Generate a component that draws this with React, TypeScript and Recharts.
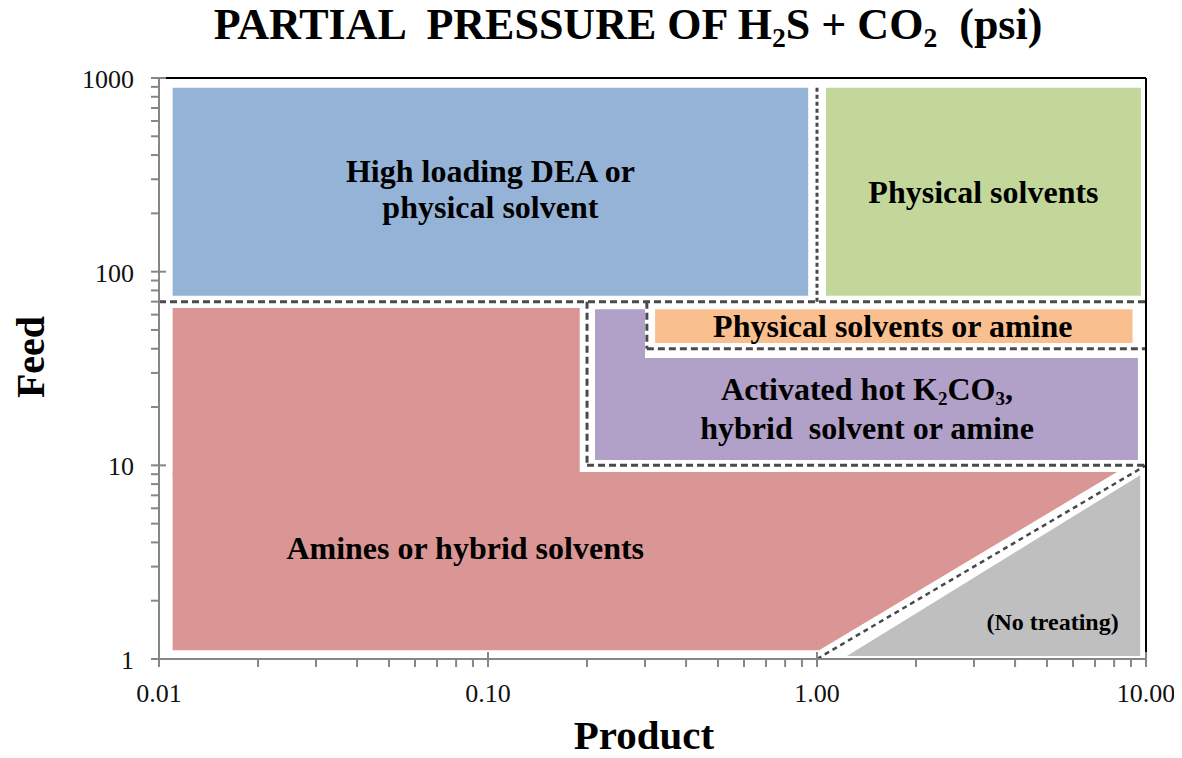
import React from 'react';
import { ComposedChart, XAxis, YAxis, ReferenceArea, ReferenceLine } from 'recharts';

// ---- axis ticks ----
const xMajorTicks = [0.01, 0.1, 1, 10];
const xTickLabels = ['0.01', '0.10', '1.00', '10.00'];
const xMinorTicks = [0.02, 0.03, 0.04, 0.05, 0.06, 0.07, 0.08, 0.09, 0.2, 0.3, 0.4, 0.5, 0.6, 0.7, 0.8, 0.9, 2, 3, 4, 5, 6, 7, 8, 9];
const yMajorTicks = [1, 10, 100, 1000];
const yTickLabels = ['1', '10', '100', '1000'];
const yMinorTicks = [2, 3, 4, 5, 6, 7, 8, 9, 20, 30, 40, 50, 60, 70, 80, 90, 200, 300, 400, 500, 600, 700, 800, 900];

// ---- regions: [productX1, productX2, feedY1, feedY2] (psi) ----
const deaBox = [0.011, 0.94, 75, 890];
const physicalBox = [1.065, 9.65, 75, 890];
const physOrAmineBox = [0.322, 9.1, 42.8, 64];
const k2co3StripBox = [0.2115, 0.3, 10.65, 64];
const k2co3Box = [0.29, 9.45, 10.65, 35.8];
const aminesUpperBox = [0.011, 0.19, 9.0, 65];
const aminesLowerBox = [0.011, 1.02, 1.11, 9.23];
const aminesWedgeBox = [1.015, 8.16, 1.11, 9.23];
const noTreatBox = [1.233, 9.6, 1.036, 8.9];

// ---- dashed boundaries (product, feed) ----
const boundaryFeed70 = [{ x: 0.01, y: 70 }, { x: 10, y: 70 }];
const boundaryProduct1 = [{ x: 1, y: 70 }, { x: 1, y: 900 }];
const boundaryK2CO3 = [{ x: 0.2, y: 70 }, { x: 0.2, y: 10 }, { x: 10, y: 10 }];
const boundaryPhysAmine = [{ x: 0.304, y: 70 }, { x: 0.304, y: 40 }, { x: 10, y: 40 }];
const boundaryNoTreat = [{ x: 1, y: 1 }, { x: 10, y: 10 }];

// ---- styles ----
const SERIF = "'Liberation Serif', 'Times New Roman', serif";
const AXIS = '#868686';
const DASH = '#4a4a4a';
const C = {
  blue: '#95B3D7',
  green: '#C4D79B',
  orange: '#FABF8F',
  purple: '#B1A0C7',
  red: '#DA9694',
  gray: '#BFBFBF',
};

const XTick = (props: any) => {
  const { x, y, payload } = props;
  const mi = xMajorTicks.indexOf(payload.value);
  const major = mi >= 0;
  return (
    <g>
      <line x1={x} x2={x} y1={major ? y - 7 : y} y2={y + 8} stroke={AXIS} strokeWidth={2} />
      {major && (
        <text x={x} y={y + 43} textAnchor="middle" fontFamily={SERIF} fontSize={26} fill="#111">
          {xTickLabels[mi]}
        </text>
      )}
    </g>
  );
};

const YTick = (props: any) => {
  const { x, y, payload } = props;
  const mi = yMajorTicks.indexOf(payload.value);
  const major = mi >= 0;
  return (
    <g>
      <line x1={x - 8} x2={major ? x + 7 : x} y1={y} y2={y} stroke={AXIS} strokeWidth={2} />
      {major && (
        <text x={x - 25} y={y + 10} textAnchor="end" fontFamily={SERIF} fontSize={26} fill="#111">
          {yTickLabels[mi]}
        </text>
      )}
    </g>
  );
};

const regionLabel = (lines: React.ReactNode[], dx: number, baselines: number[], size = 32) => (props: any) => {
  const vb = props.viewBox || {};
  const cx = vb.x + vb.width / 2 + dx;
  const cy = vb.y + vb.height / 2;
  return (
    <g>
      {lines.map((l, i) => (
        <text key={i} x={cx} y={cy + baselines[i]} textAnchor="middle" fontFamily={SERIF} fontWeight="bold" fontSize={size} fill="#000" style={{ whiteSpace: 'pre' }}>
          {l}
        </text>
      ))}
    </g>
  );
};

const triangleShape = (corners: string) => (p: any) => {
  const { x, y, width, height, fill } = p;
  const pts: Record<string, string> = {
    lb: `${x},${y + height}`,
    lt: `${x},${y}`,
    rt: `${x + width},${y}`,
    rb: `${x + width},${y + height}`,
  };
  const points = corners.split(' ').map((k) => pts[k]).join(' ');
  return <polygon points={points} fill={fill} />;
};

const Box = (b: number[], fill: string, extra: any = {}) => (
  <ReferenceArea
    x1={b[0]}
    x2={b[1]}
    y1={b[2]}
    y2={b[3]}
    fill={fill}
    fillOpacity={1}
    stroke="none"
    ifOverflow="visible"
    {...extra}
  />
);

const dashedSegments = (pts: { x: number; y: number }[], dash: string, key: string, width = 3) =>
  pts.slice(0, -1).map((p, i) => (
    <ReferenceLine
      key={`${key}-${i}`}
      segment={[p, pts[i + 1]]}
      stroke={DASH}
      strokeWidth={width}
      strokeDasharray={dash}
      ifOverflow="visible"
    />
  ));

const subStyle: React.CSSProperties = { fontSize: '0.63em', position: 'relative', top: 8 };

export default function App() {
  return (
    <div style={{ position: 'relative', width: 1174, height: 750 }}>
      <ComposedChart width={1174} height={750} margin={{ top: 70, right: 36, bottom: 0, left: 0 }}>
        <XAxis
          dataKey="x"
          type="number"
          scale="log"
          domain={[0.01, 10]}
          allowDataOverflow
          ticks={[...xMajorTicks, ...xMinorTicks]}
          interval={0}
          tick={XTick}
          tickLine={false}
          tickSize={0}
          tickMargin={0}
          axisLine={{ stroke: AXIS, strokeWidth: 2 }}
          height={99}
        />
        <YAxis
          dataKey="y"
          type="number"
          scale="log"
          domain={[1, 1000]}
          allowDataOverflow
          ticks={[...yMajorTicks, ...yMinorTicks]}
          interval={0}
          tick={YTick}
          tickLine={false}
          tickSize={0}
          tickMargin={0}
          axisLine={{ stroke: AXIS, strokeWidth: 2 }}
          width={151}
        />
        {Box(deaBox, C.blue, { label: regionLabel(['High loading DEA or', 'physical solvent'], 0, [-10, 26]) })}
        {Box(physicalBox, C.green, { label: regionLabel(['Physical solvents'], 0, [11]) })}
        {Box(physOrAmineBox, C.orange, { label: regionLabel(['Physical solvents or amine'], -1, [11]) })}
        {Box(k2co3StripBox, C.purple)}
        {Box(k2co3Box, C.purple, {
          label: regionLabel(
            [
              <>
                {'Activated hot K'}
                <tspan fontSize={19} dy={5}>2</tspan>
                <tspan dy={-5}>CO</tspan>
                <tspan fontSize={19} dy={5}>3</tspan>
                <tspan dy={-5}>,</tspan>
              </>,
              'hybrid  solvent or amine',
            ],
            -22,
            [-9, 30],
          ),
        })}
        {Box(aminesUpperBox, C.red)}
        {Box(aminesLowerBox, C.red, { label: regionLabel(['Amines or hybrid solvents'], -31, [-2]) })}
        {Box(aminesWedgeBox, C.red, { shape: triangleShape('lb lt rt') })}
        {Box(noTreatBox, C.gray, {
          shape: triangleShape('lb rb rt'),
          label: regionLabel(['(No treating)'], 59, [64], 24),
        })}
        {dashedSegments(boundaryFeed70, '7 4', 'f70')}
        {dashedSegments(boundaryProduct1, '4 3', 'p1')}
        {dashedSegments(boundaryK2CO3, '7 4', 'k')}
        {dashedSegments(boundaryPhysAmine, '7 4', 'pa')}
        {dashedSegments(boundaryNoTreat, '5 4', 'nt', 2.5)}
        <ReferenceLine y={1000} stroke="#000" strokeWidth={2} ifOverflow="visible" />
        <ReferenceLine x={10} stroke="#000" strokeWidth={2} ifOverflow="visible" />
      </ComposedChart>
      <div
        style={{
          position: 'absolute',
          left: 66,
          top: -5,
          width: 1108,
          textAlign: 'center',
          fontFamily: SERIF,
          fontWeight: 'bold',
          fontSize: 44,
          lineHeight: '44px',
          whiteSpace: 'pre',
          color: '#000',
        }}
      >
        {'PARTIAL  PRESSURE OF H'}
        <span style={subStyle}>2</span>
        {'S + CO'}
        <span style={subStyle}>2</span>
        {'  (psi)'}
      </div>
      <svg width={1174} height={750} style={{ position: 'absolute', left: 0, top: 0, pointerEvents: 'none' }}>
        <text transform="translate(36,349) rotate(-90)" textAnchor="middle" fontFamily={SERIF} fontWeight="bold" fontSize={40} fill="#000">
          Feed
        </text>
        <text x={636} y={741} textAnchor="middle" fontFamily={SERIF} fontWeight="bold" fontSize={41} fill="#000">
          Product
        </text>
      </svg>
    </div>
  );
}
